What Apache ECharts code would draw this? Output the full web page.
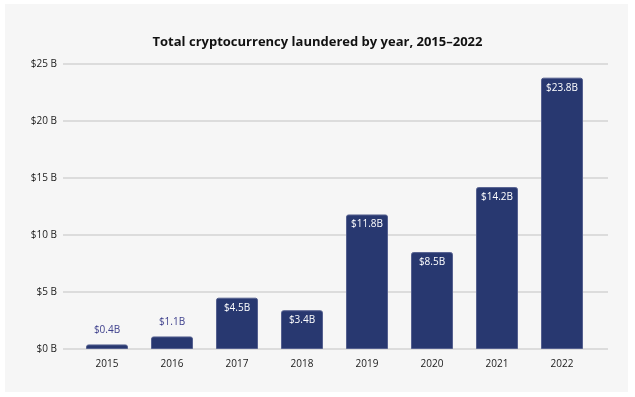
<!DOCTYPE html>
<html>
<head>
<meta charset="utf-8">
<script src="https://cdn.jsdelivr.net/npm/echarts@6/dist/echarts.min.js"></script>
<style>
  html, body { margin: 0; padding: 0; background: #ffffff; }
  #card { position: absolute; left: 5px; top: 4px; width: 623px; height: 388px; background: #f6f6f6; }
  #chart { position: absolute; left: 0; top: 0; width: 635px; height: 397px; }
</style>
</head>
<body>
<div id="card"></div>
<div id="chart"></div>
<script>
// data
const years = ['2015', '2016', '2017', '2018', '2019', '2020', '2021', '2022']
const laundered = [0.4, 1.1, 4.5, 3.4, 11.8, 8.5, 14.2, 23.8]
const yTicks = [0, 5, 10, 15, 20, 25]

const barColor = '#283870'
const font = '"Open Sans", Lato, sans-serif'

const chart = echarts.init(document.getElementById('chart'))

// small bars get their label above, others inside in white
const barData = laundered.map(v => {
  const small = v < 2
  return {
    value: v,
    label: small
      ? { position: 'top', distance: 9, color: '#3d3f8c' }
      : { position: 'insideTop', distance: 5, color: '#ffffff' }
  }
})

chart.setOption({
  backgroundColor: 'transparent',
  title: {
    text: 'Total cryptocurrency laundered by year, 2015–2022',
    left: 'center', top: 31,
    textStyle: { fontFamily: font, fontSize: 13, fontWeight: 700, color: '#111111' }
  },
  grid: [
    // gridlines + y labels
    { left: 63, right: 27, top: 64, bottom: 48 },
    // bars
    { left: 74.5, right: 40.5, top: 64, bottom: 48 }
  ],
  xAxis: [
    { gridIndex: 0, type: 'category', data: years, show: false },
    {
      gridIndex: 1, type: 'category', data: years,
      axisLine: { show: false }, axisTick: { show: false },
      axisLabel: { color: '#1a1a1a', fontSize: 10, fontFamily: font, margin: 10 }
    }
  ],
  yAxis: [
    {
      gridIndex: 0, type: 'value', min: yTicks[0], max: yTicks[yTicks.length - 1], interval: 5,
      axisLine: { show: false }, axisTick: { show: false },
      axisLabel: { color: '#1a1a1a', fontSize: 10, fontFamily: font, margin: 6, formatter: v => '$' + v + ' B' },
      splitLine: { lineStyle: { color: '#dcdcdc', width: 2 } }
    },
    { gridIndex: 1, type: 'value', min: 0, max: 25, show: false }
  ],
  series: [{
    type: 'bar',
    xAxisIndex: 1, yAxisIndex: 1,
    data: barData,
    barWidth: 42,
    itemStyle: { color: barColor, borderColor: '#55608f', borderWidth: 1, borderRadius: [2, 2, 0, 0] },
    label: {
      show: true, fontSize: 10, fontFamily: font,
      formatter: p => '$' + p.value + 'B'
    }
  }]
})
</script>
</body>
</html>
